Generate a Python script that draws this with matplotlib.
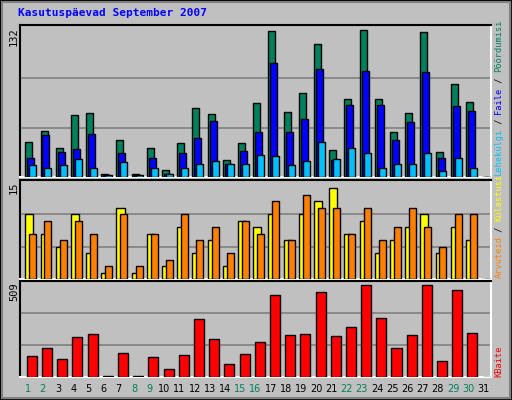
import matplotlib
matplotlib.use("Agg")
import matplotlib.pyplot as plt
from matplotlib.patches import Rectangle
import numpy as np

days = list(range(1, 32))
hits  = [31,41,26,55,57,3,33,3,26,6,30,61,56,15,30,66,130,58,75,118,24,69,131,69,40,57,129,22,83,67,0]
files = [17,37,22,25,38,2,21,2,17,3,21,35,50,12,23,40,101,40,52,96,15,64,94,64,33,49,93,17,63,59,0]
pages = [11,8,11,16,8,2,13,2,8,3,8,12,14,12,12,20,19,11,14,31,16,26,21,8,12,12,21,5,17,8,0]
visits = [10,7,5,10,4,1,11,1,7,2,8,4,6,2,9,8,10,6,10,12,14,7,9,4,6,8,10,4,8,6,0]
sites  = [7,9,6,9,7,2,10,2,7,3,10,6,8,4,9,7,12,6,13,11,11,7,11,6,8,11,8,5,10,10,0]
kbytes = [113,154,98,211,226,3,129,3,108,41,118,309,201,67,123,185,437,221,226,452,216,267,489,314,154,221,489,87,463,231,0]
weekend = {1,2,8,9,15,16,22,23,29,30}
title = "Kasutuspäevad September 2007"

W, H = 512, 400
fig = plt.figure(figsize=(W/100, H/100), dpi=100, facecolor="#C0C0C0")
fig.patches.append(Rectangle((0,0),1,1,transform=fig.transFigure,fill=False,ec="black",lw=2))
fig.patches.append(Rectangle((0.004,0.005),0.992,0.99,transform=fig.transFigure,fill=False,ec="#808080",lw=1.5))

def mkax(top, bot):
    ax = fig.add_axes([20/W, (H-bot)/H, 471/W, (bot-top)/H])
    ax.set_facecolor("#C0C0C0")
    ax.set_xlim(0.5, 31.5)
    ax.set_xticks([]); ax.set_yticks([])
    for s in ["top","left"]:
        ax.spines[s].set_color("black"); ax.spines[s].set_linewidth(1.5)
    for s in ["bottom","right"]:
        ax.spines[s].set_color("white"); ax.spines[s].set_linewidth(1.5)
    return ax

x = np.array(days, dtype=float)
ek = dict(edgecolor="black", linewidth=1, align="edge", zorder=3)

ax1 = mkax(25, 177)
ax1.set_ylim(0, 132*151.7/148.2)
for g in (44, 88):
    ax1.axhline(g, color="#808080", lw=1.2, zorder=1)
ax1.bar(x-0.15, hits, 0.46, color="#00805C", **ek)
ax1.bar(x-0.02, files, 0.46, color="#0000FF", **ek)
ax1.bar(x+0.11, pages, 0.46, color="#00C0FF", **ek)

ax2 = mkax(180, 279)
ax2.set_ylim(0, 15*99/(99-2))
for g in (5, 10):
    ax2.axhline(g, color="#808080", lw=1.2, zorder=1)
ax2.bar(x-0.15, visits, 0.53, color="#FFFF00", **ek)
ax2.bar(x+0.11, sites, 0.46, color="#FF8000", **ek)

ax3 = mkax(281, 377)
ax3.set_ylim(0, 509)
for g in (509/3, 509*2/3):
    ax3.axhline(g, color="#808080", lw=1.2, zorder=1)
ax3.bar(x-0.05, kbytes, 0.66, color="#FF0000", **ek)

fig.text(18/W, 1-16/H, title, color="#0000FF", fontsize=8, fontweight="bold",
         family="DejaVu Sans Mono", va="baseline")

for lab, top in (("132", 27), ("15", 181), ("509", 282)):
    fig.text(9/W, 1-top/H, lab, rotation=90, fontsize=7.5, va="top", ha="left",
             family="DejaVu Sans Mono")

for d in days:
    fig.text((20 + (d-0.5)*471/31)/W, 1-389/H, str(d), ha="center", va="center",
             fontsize=7, color="#00805C" if d in weekend else "black")

FS = 6.2
def vlabel(parts, ystart, xpx=499):
    cw = FS*0.602*100/72
    y = ystart
    for txt, col in parts:
        fig.text(xpx/W, 1-y/H, txt, rotation=90, color=col, fontsize=FS,
                 family="DejaVu Sans Mono", ha="center", va="bottom")
        y -= cw*len(txt)

vlabel([("Lehekülgi", "#00C0FF"), (" / ", "black"), ("Faile", "#0000FF"),
        (" / ", "black"), ("Põördumisi", "#00805C")], 176)
vlabel([("Arvuteid", "#FF8000"), (" / ", "black"), ("Külastusi", "#FFFF00")], 278)
vlabel([("KBaite", "#FF0000")], 377)

fig.savefig("out.png", dpi=100, facecolor=fig.get_facecolor())
